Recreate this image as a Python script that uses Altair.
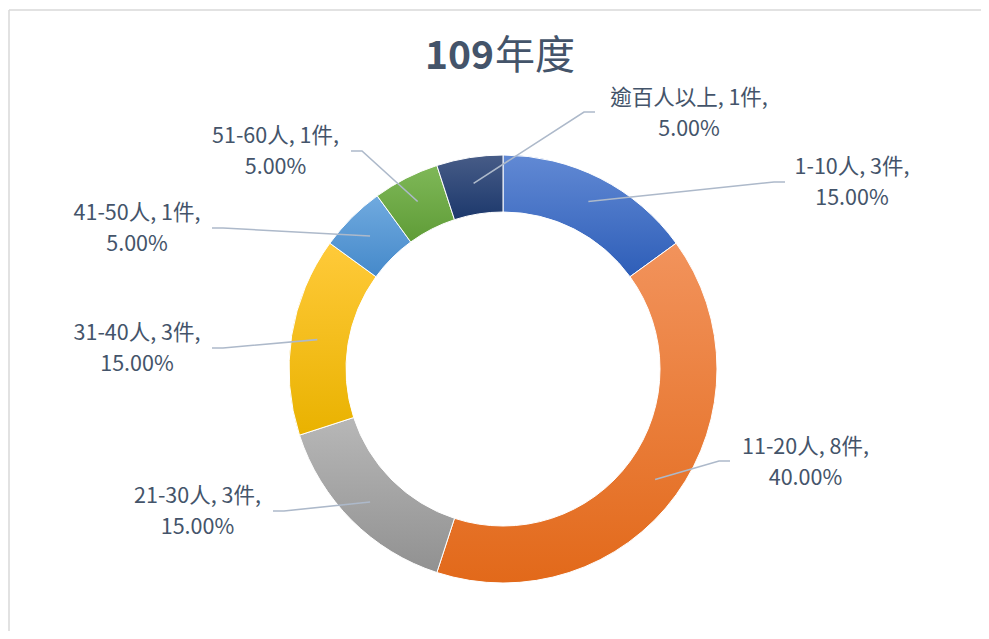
import math
import altair as alt
import pandas as pd

# ---------------- data ----------------
categories = ["1-10人", "11-20人", "21-30人", "31-40人", "41-50人", "51-60人", "逾百人以上"]
counts = [3, 8, 3, 3, 1, 1, 1]
title_number = "109"
title_suffix = "年度"

# ---------------- styles ----------------
grad_top = ["#6189D4", "#F2935C", "#B7B7B7", "#FFCA3A", "#70AADF", "#7FB858", "#475C87"]
grad_bottom = ["#2E5EB8", "#E2691A", "#919191", "#E9B200", "#4589CA", "#5F9C37", "#1C386C"]
TEXT_COLOR = "#44546A"
LEADER_COLOR = "#ADB9CA"
BORDER_COLOR = "#D9D9D9"
FONT = "Noto Sans CJK TC"

# ---------------- layout (page pixels) ----------------
W, H, M = 973, 623, 8
CX, CY = 503, 369          # donut centre
R_OUT, R_IN, R_LEADER = 214, 157, 188
LINE_H = 31
# label block centre offsets from donut centre (Excel's own placement)
label_dx = [349, 302.5, -305.5, -366, -366, -227.5, 186]
label_dy = [-185.5, 94.5, 143.5, -20, -139.5, -217, -255]
# label-side end of each leader line, offset from donut centre
leader_dx = [282, 227, -230, -291, -291, -152, 92]
leader_dy = [-187, 92, 142, -21, -141, -218, -257]
ELBOW = 11

total = sum(counts)
rows = []
cum = 0
for i, (c, n) in enumerate(zip(categories, counts)):
    pct = n / total * 100
    rows.append({
        "cat": c, "count": n, "start": cum, "end": cum + n,
        "label": f"{c}, {n}件,\n{pct:.2f}%",
        "lx": CX + label_dx[i], "ly": CY + label_dy[i],
    })
    cum += n
df = pd.DataFrame(rows)

# leader lines: inner point from slice mid-angle, elbow, label end
lead_rows = []
for i, r in df.iterrows():
    a = (r["start"] + r["end"]) / 2 / total * 2 * math.pi
    ix = CX + R_LEADER * math.sin(a)
    iy = CY - R_LEADER * math.cos(a)
    ex, ey = CX + leader_dx[i], CY + leader_dy[i]
    sgn = 1 if leader_dx[i] > 0 else -1
    lead_rows += [
        {"cat": r["cat"], "o": 0, "x": ix, "y": iy},
        {"cat": r["cat"], "o": 1, "x": ex - sgn * ELBOW, "y": ey},
        {"cat": r["cat"], "o": 2, "x": ex, "y": ey},
    ]
lead = pd.DataFrame(lead_rows)

xscale = alt.Scale(domain=[M, M + W], range=[0, W], zero=False, nice=False)
yscale = alt.Scale(domain=[M, M + H], range=[0, H], zero=False, nice=False)
theta_scale = alt.Scale(domain=[0, total], range=[0, 2 * math.pi])

layers = []
base = alt.Chart(df)
for i, c in enumerate(categories):
    grad = alt.Gradient(
        gradient="linear",
        stops=[alt.GradientStop(color=grad_top[i], offset=0),
               alt.GradientStop(color=grad_bottom[i], offset=1)],
        x1=0, x2=0, y1=0, y2=1,
    )
    layers.append(
        base.transform_filter(alt.datum.cat == c)
        .mark_arc(innerRadius=R_IN, outerRadius=R_OUT, fill=grad,
                  stroke="white", strokeWidth=1)
        .encode(
            theta=alt.Theta("start:Q", scale=theta_scale),
            theta2="end:Q",
            x=alt.value(CX - M),
            y=alt.value(CY - M),
            tooltip=["cat:N", "count:Q"],
        )
    )

leaders = alt.Chart(lead).mark_line(color=LEADER_COLOR, strokeWidth=1.6).encode(
    x=alt.X("x:Q", scale=xscale, axis=None),
    y=alt.Y("y:Q", scale=yscale, axis=None),
    detail="cat:N",
    order="o:Q",
)

labels = base.mark_text(
    font=FONT, fontSize=21.5, color=TEXT_COLOR, lineBreak="\n", lineHeight=LINE_H,
    align="center", baseline="middle", dy=-LINE_H / 2,
).encode(
    x=alt.X("lx:Q", scale=xscale, axis=None),
    y=alt.Y("ly:Q", scale=yscale, axis=None),
    text="label:N",
)

one = alt.Chart(pd.DataFrame({"a": [0]}))
title_a = one.mark_text(font=FONT, fontSize=39, fontWeight="bold", color=TEXT_COLOR,
                        align="right", baseline="middle").encode(
    x=alt.value(494 - M), y=alt.value(57 - M), text=alt.value(title_number))
title_b = one.mark_text(font=FONT, fontSize=40, color=TEXT_COLOR,
                        align="left", baseline="middle").encode(
    x=alt.value(495 - M), y=alt.value(57 - M), text=alt.value(title_suffix))

border_top = one.mark_rule(color=BORDER_COLOR, strokeWidth=1.5).encode(
    x=alt.value(9 - M), x2=alt.value(W + M), y=alt.value(10 - M))
border_left = one.mark_rule(color=BORDER_COLOR, strokeWidth=1.5).encode(
    x=alt.value(9 - M), y=alt.value(10 - M), y2=alt.value(H + M))

chart = alt.layer(
    border_top, border_left, *layers, leaders, labels, title_a, title_b
).properties(
    width=W, height=H, padding=0, autosize=alt.AutoSizeParams(type="none"),
    background="white",
).configure_view(stroke=None)

chart.save("out.html", embed_options={"renderer": "svg", "actions": False})
